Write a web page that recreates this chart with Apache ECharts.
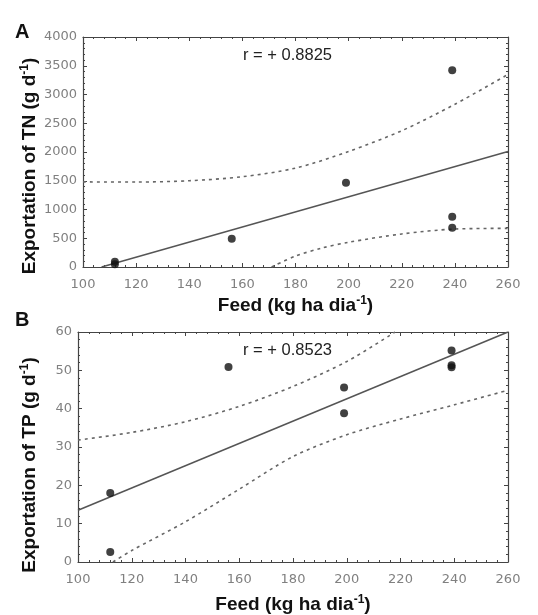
<!DOCTYPE html>
<html>
<head>
<meta charset="utf-8">
<script src="https://cdn.jsdelivr.net/npm/echarts@6/dist/echarts.min.js"></script>
<style>
  html, body { margin: 0; padding: 0; background: #fff; }
</style>
</head>
<body>
<div id="main" style="width: 538px; height: 615px"></div>
<script>
// Panel A: TN export vs feed
const feedPtsA = [112, 112, 156, 199, 239, 239, 239]
const tnPtsA = [90, 50, 493, 1467, 3420, 875, 684]
const fitFeedA = [107, 260]
const fitTnA = [0, 2010]
const upFeedA = [100, 120, 140, 160, 180, 200, 220, 240, 260]
const upTnA = [1480, 1478, 1500, 1570, 1720, 2010, 2370, 2830, 3350]
const lowFeedA = [171, 180, 190, 200, 220, 240, 260]
const lowTnA = [0, 190, 330, 430, 575, 660, 672]

// Panel B: TP export vs feed
const feedPtsB = [112, 112, 156, 199, 199, 239, 239, 239]
const tpPtsB = [18.0, 2.6, 50.9, 45.5, 38.8, 55.2, 51.3, 50.8]
const fitFeedB = [100, 260]
const fitTpB = [13.5, 60]
const upFeedB = [100, 120, 140, 160, 180, 200, 218]
const upTpB = [31.8, 33.8, 36.6, 40.6, 45.8, 52.3, 60]
const lowFeedB = [113, 120, 140, 160, 180, 200, 220, 240, 260]
const lowTpB = [0, 3, 10.5, 19, 27.5, 33.2, 37.3, 41, 44.8]

const rA = 'r = + 0.8825'
const rB = 'r = + 0.8523'

const zip = (xs, ys) => xs.map((x, i) => [x, ys[i]])

const frameColor = '#444'
const labelColor = '#808080'
const font = 'Liberation Sans, Arial, sans-serif'
const tickFont = 'DejaVu Sans, sans-serif'

const titleRich = {
  t: { fontSize: 19, fontWeight: 'bold', color: '#111', fontFamily: font },
  sup: { fontSize: 12, fontWeight: 'bold', color: '#111', fontFamily: font, padding: [0, 0, 9, 0] }
}

function axisX(grid, pos, showLabel, name, gap) {
  return {
    type: 'value', gridIndex: grid, position: pos,
    min: 100, max: 260, interval: 20,
    name: name, nameLocation: 'middle', nameGap: gap, nameMoveOverlap: false,
    nameTextStyle: { rich: titleRich },
    axisLine: { show: true, onZero: false, lineStyle: { color: frameColor, width: 1.2 } },
    axisTick: { show: true, inside: true, length: 4, lineStyle: { color: frameColor } },
    minorTick: { show: true, splitNumber: 5, length: 2, lineStyle: { color: frameColor } },
    axisLabel: { show: showLabel, color: labelColor, fontSize: 13, fontFamily: tickFont, margin: 11 },
    splitLine: { show: false }
  }
}

function axisY(grid, pos, showLabel, max, step, name, gap, shift) {
  return {
    type: 'value', gridIndex: grid, position: pos,
    min: 0, max: max, interval: step,
    name: name, nameLocation: 'middle', nameGap: gap, nameRotate: 90, nameMoveOverlap: false,
    nameTextStyle: { rich: titleRich, padding: [0, shift, 0, 0] },
    axisLine: { show: true, onZero: false, lineStyle: { color: frameColor, width: 1.2 } },
    axisTick: { show: true, inside: true, length: 4, lineStyle: { color: frameColor } },
    minorTick: { show: true, splitNumber: 5, length: 2, lineStyle: { color: frameColor } },
    axisLabel: {
      show: showLabel, color: labelColor, fontSize: 13, fontFamily: tickFont, margin: 6,
      formatter: function(v) { return String(v) }
    },
    splitLine: { show: false }
  }
}

function dotSeries(xi, yi, data) {
  return {
    type: 'scatter', xAxisIndex: xi, yAxisIndex: yi, data: data,
    symbolSize: 8, itemStyle: { color: '#111' }, z: 5
  }
}

function fitSeries(xi, yi, data) {
  return {
    type: 'line', xAxisIndex: xi, yAxisIndex: yi, data: data,
    showSymbol: false, lineStyle: { color: '#555', width: 1.5 }
  }
}

function bandSeries(xi, yi, data) {
  return {
    type: 'line', xAxisIndex: xi, yAxisIndex: yi, data: data,
    showSymbol: false, smooth: 0.3,
    lineStyle: { color: '#666', width: 1.6, type: [3, 4] }
  }
}

var myChart = echarts.init(document.getElementById('main'))
var option = {
  animation: false,
  textStyle: { fontFamily: font },
  title: [
    { text: 'A', left: 10, top: 17, textStyle: { fontSize: 20, fontWeight: 'bold', color: '#111' } },
    { text: 'B', left: 10, top: 305, textStyle: { fontSize: 20, fontWeight: 'bold', color: '#111' } },
    { text: rA, left: 238, top: 42, textStyle: { fontSize: 16.5, fontWeight: 'normal', color: '#222' } },
    { text: rB, left: 238, top: 337, textStyle: { fontSize: 16.5, fontWeight: 'normal', color: '#222' } }
  ],
  grid: [
    { left: 83, right: 30, top: 37, height: 230 },
    { left: 78, right: 30, top: 332, height: 230 }
  ],
  xAxis: [
    axisX(0, 'bottom', true, '{t|Feed (kg ha dia}{sup|-1}{t|)}', 28),
    axisX(0, 'top', false, '', 0),
    axisX(1, 'bottom', true, '{t|Feed (kg ha dia}{sup|-1}{t|)}', 32),
    axisX(1, 'top', false, '', 0)
  ],
  yAxis: [
    axisY(0, 'left', true, 4000, 500, '{t|Exportation of TN (g d}{sup|-1}{t|)}', 43, 28),
    axisY(0, 'right', false, 4000, 500, '', 0, 0),
    axisY(1, 'left', true, 60, 10, '{t|Exportation of TP (g d}{sup|-1}{t|)}', 38, 36),
    axisY(1, 'right', false, 60, 10, '', 0, 0)
  ],
  series: [
    bandSeries(0, 0, zip(upFeedA, upTnA)),
    bandSeries(0, 0, zip(lowFeedA, lowTnA)),
    fitSeries(0, 0, zip(fitFeedA, fitTnA)),
    dotSeries(0, 0, zip(feedPtsA, tnPtsA)),
    bandSeries(2, 2, zip(upFeedB, upTpB)),
    bandSeries(2, 2, zip(lowFeedB, lowTpB)),
    fitSeries(2, 2, zip(fitFeedB, fitTpB)),
    dotSeries(2, 2, zip(feedPtsB, tpPtsB))
  ]
}
myChart.setOption(option)
</script>
</body>
</html>
